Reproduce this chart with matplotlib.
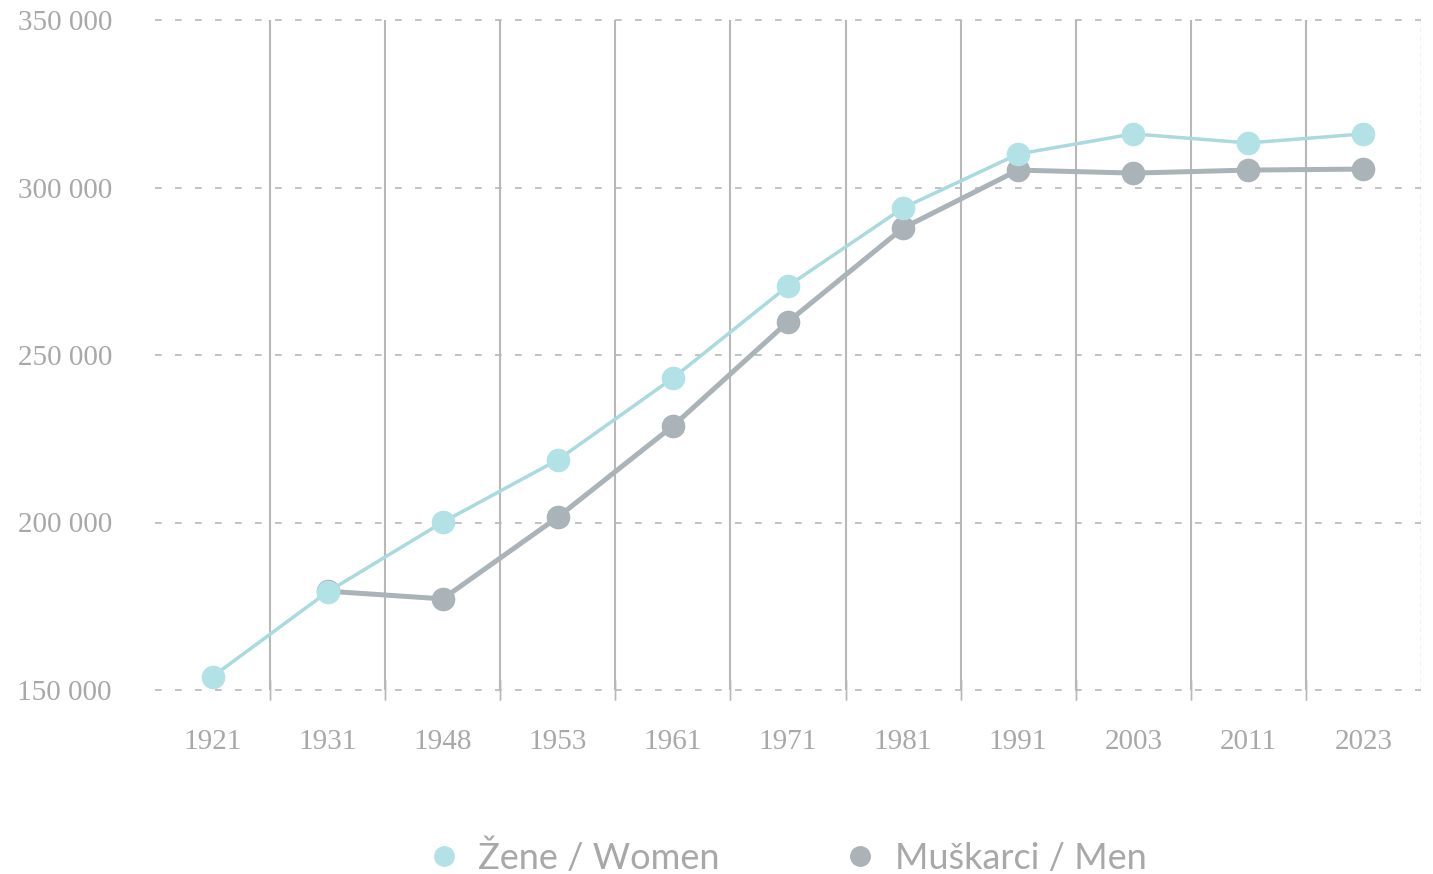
import matplotlib
matplotlib.use("Agg")
import matplotlib.pyplot as plt
import numpy as np
from matplotlib.lines import Line2D

years = ["1921", "1931", "1948", "1953", "1961", "1971", "1981", "1991", "2003", "2011", "2023"]
women = [154000, 179300, 200100, 218700, 243100, 270600, 293900, 310000, 316000, 313300, 316000]
men = [np.nan, 179500, 177200, 201600, 228800, 259900, 287900, 305200, 304300, 305200, 305500]
yticks = [150000, 200000, 250000, 300000, 350000]
ytick_labels = ["150 000", "200 000", "250 000", "300 000", "350 000"]

women_col = "#b3e2e6"
women_line = "#a9dade"
men_col = "#a9b3b8"
text_col = "#a8a8a8"
grid_col = "#b8b8b8"

fig = plt.figure(figsize=(14.33, 8.74), dpi=100)
ax = fig.add_axes([155/1433, 184/874, (1421-155)/1433, (690-20)/874])

x = np.arange(len(years))
ax.set_xlim(-0.5, len(years) - 0.5)
ax.set_ylim(150000, 350000)

# grid
for yv in yticks:
    ax.axhline(yv, color=grid_col, lw=1.2, ls=(0, (4, 8)), zorder=1, clip_on=False)
for b in np.arange(0.5, len(years) - 0.5, 1):
    ax.axvline(b, color=grid_col, lw=1.5, zorder=1)
    ax.plot([b, b], [150000, 150000], marker="|", ms=14, color=grid_col, clip_on=False, zorder=1)
ax.axvline(len(years) - 0.5, color=grid_col, lw=1.0, ls=(0, (3, 3)), zorder=1)

ax.plot(x, men, color=men_col, lw=3.6, marker="o", ms=16, mfc=men_col, mec=men_col, zorder=3)
ax.plot(x, women, color=women_line, lw=2.5, marker="o", ms=16, mfc=women_col, mec=women_col, zorder=4)

for s in ax.spines.values():
    s.set_visible(False)

ax.set_xticks(x)
ax.set_xticklabels(years, fontfamily="Liberation Serif", fontsize=21, color=text_col)
ax.set_yticks(yticks)
ax.set_yticklabels(ytick_labels, fontfamily="Liberation Serif", fontsize=21, color=text_col)
ax.tick_params(axis="both", length=0)
ax.tick_params(axis="x", pad=28)
ax.tick_params(axis="y", pad=31)

# legend
handles = [Line2D([], [], marker="o", ls="", ms=14, mfc=women_col, mec=women_col),
           Line2D([], [], marker="o", ls="", ms=14, mfc=men_col, mec=men_col)]
leg = fig.legend(handles, ["Žene / Women", "Muškarci / Men"], loc="center",
                 bbox_to_anchor=(786/1433, 1 - 857/874), ncol=2, frameon=False,
                 prop={"family": "Lato", "size": 26}, handlelength=1.0,
                 handletextpad=0.45, columnspacing=3.4)
for t in leg.get_texts():
    t.set_color(text_col)

fig.savefig("out.png", dpi=100, facecolor="white")
